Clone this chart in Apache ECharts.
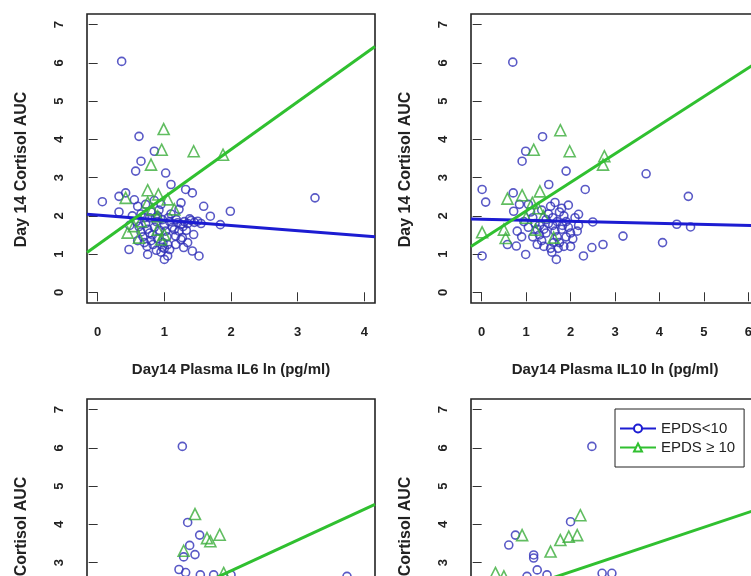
<!DOCTYPE html>
<html><head><meta charset="utf-8">
<script src="https://cdn.jsdelivr.net/npm/echarts@6/dist/echarts.min.js"></script>
<style>html,body{margin:0;padding:0;background:#fff}#c{width:751px;height:576px}</style>
</head><body><div id="c"></div>
<script>
// ---- data ----
var seriesNames = ['EPDS<10', 'EPDS \u2265 10'];
var yTicks = [0, 1, 2, 3, 4, 5, 6, 7];
var xTicksIL6 = [0, 1, 2, 3, 4];
var xTicksIL10 = [0, 1, 2, 3, 4, 5, 6];
var xNames = ['Day14 Plasma IL6 ln (pg/ml)', 'Day14 Plasma IL10 ln (pg/ml)', '', ''];
var yName = 'Day 14 Cortisol AUC';

var tlBlue = [[0.36,6.04],[0.07,2.37],[0.32,2.10],[0.32,2.51],[0.42,2.60],[0.62,4.08],[0.85,3.69],[0.65,3.43],[0.57,3.17],[1.02,3.12],[1.10,2.82],[1.32,2.69],[1.42,2.60],[1.25,2.34],[1.22,2.17],[1.59,2.25],[1.99,2.12],[1.69,1.99],[1.84,1.77],[3.26,2.47],[0.47,1.12],[0.75,0.99],[1.00,0.86],[1.05,0.95],[1.52,0.95],[1.42,1.08],[1.44,1.51],[1.27,1.43],[1.17,1.25],[1.29,1.17],[1.15,1.64],[1.17,1.47],
[0.55,2.42],[0.60,2.25],[0.65,2.05],[0.70,1.95],[0.72,1.80],[0.75,1.65],[0.78,1.55],[0.62,1.72],[0.68,1.45],[0.70,1.30],[0.74,1.20],[0.80,1.35],[0.82,1.50],[0.85,1.70],[0.88,1.85],[0.90,2.00],[0.92,2.15],[0.95,2.30],[0.97,1.90],[1.00,1.75],[1.02,1.60],[1.04,1.45],[0.98,1.30],[1.00,1.15],[0.95,1.05],[0.88,1.10],[0.83,1.25],[0.78,1.95],[0.80,2.10],[0.85,2.40],[0.65,1.58],[0.58,1.85],[0.52,2.00],[0.48,1.75],[0.60,1.35],[0.72,2.30],[1.06,1.95],[1.08,1.85],[1.10,2.05],[1.12,1.70],[0.90,1.40],[0.93,1.62],[0.87,1.95],[1.05,1.25],[1.08,1.12],[0.97,1.18],
[1.20,1.82],[1.25,1.78],[1.30,1.85],[1.35,1.80],[1.40,1.88],[1.45,1.83],[1.50,1.86],[1.55,1.80],[1.38,1.92],[1.28,1.72],[1.22,1.60],[1.33,1.62],[1.25,1.38],[1.35,1.30],[1.18,1.90]];
var tlGreen = [[0.99,4.27],[0.96,3.73],[1.44,3.69],[1.88,3.60],[0.80,3.34],[0.75,2.67],[0.91,2.56],[0.42,2.47],[0.54,1.73],[0.45,1.56],[0.62,1.43],[0.90,1.64],[0.95,1.38],[0.82,2.17],[0.75,2.35],[1.15,2.17],[1.05,2.43],[0.90,1.99],[0.65,1.86],[1.00,1.51]];

var trBlue = [[0.70,6.02],[1.37,4.07],[0.99,3.69],[0.91,3.43],[1.90,3.17],[1.51,2.82],[2.33,2.69],[3.70,3.10],[4.65,2.51],[0.01,2.69],[0.09,2.36],[0.01,0.95],[0.71,2.60],[0.72,2.12],[4.39,1.78],[4.70,1.71],[4.07,1.30],[3.18,1.47],[2.73,1.25],[2.48,1.17],[2.29,0.95],[1.68,0.86],[2.50,1.84],[2.18,2.04],[2.18,1.75],[0.78,1.21],[0.99,0.99],[0.58,1.25],[0.80,1.60],
[1.05,2.30],[1.10,2.10],[1.15,1.95],[1.20,1.80],[1.25,1.65],[1.30,1.50],[1.35,1.35],[1.40,1.20],[1.45,1.90],[1.50,2.05],[1.55,2.25],[1.60,1.75],[1.65,1.60],[1.70,1.45],[1.75,1.30],[1.80,2.20],[1.85,2.00],[1.90,1.85],[1.95,1.70],[2.00,1.55],[2.05,1.40],[2.10,1.95],[1.15,1.45],[1.25,1.25],[1.35,2.15],[1.45,1.55],[1.55,1.15],[1.65,2.35],[1.75,2.10],[1.85,1.20],[1.95,2.28],[2.00,1.20],[1.05,1.70],[0.95,1.85],[0.90,1.45],[1.50,1.80],[1.60,1.95],[1.70,1.85],[1.80,1.65],[1.90,1.45],[1.58,1.05],[1.62,1.30],[1.72,1.15],[1.82,1.75],[2.15,1.60],[0.85,2.30],[1.30,1.75],[1.40,1.65]];
var trGreen = [[1.77,4.24],[1.17,3.73],[1.98,3.69],[2.76,3.56],[2.73,3.34],[0.58,2.45],[0.91,2.54],[1.31,2.64],[0.01,1.57],[0.50,1.64],[0.54,1.42],[1.21,1.64],[1.14,2.34],[1.39,1.99],[1.62,1.43],[1.27,2.20],[1.00,1.95]];

var blBlue = [[1.27,6.04],[1.35,4.05],[1.53,3.72],[1.38,3.45],[1.29,3.15],[1.46,3.21],[1.22,2.82],[1.32,2.74],[1.54,2.68],[1.74,2.68],[2.00,2.68],[3.74,2.64]];
var blGreen = [[1.46,4.27],[1.64,3.64],[1.83,3.73],[1.69,3.56],[1.29,3.31],[1.89,2.73]];

var brBlue = [[2.48,6.04],[2.00,4.07],[0.76,3.72],[0.61,3.46],[1.17,3.20],[1.17,3.12],[1.25,2.81],[1.47,2.68],[2.71,2.72],[2.93,2.72],[1.02,2.64]];
var brGreen = [[2.22,4.24],[2.15,3.72],[1.96,3.68],[1.77,3.59],[1.55,3.29],[0.91,3.72],[0.31,2.73],[0.50,2.64]];

// regression fits: [intercept, slope]
var tlBlueFit = [2.02, -0.137], tlGreenFit = [1.24, 1.248];
var trBlueFit = [1.914, -0.027], trGreenFit = [1.38, 0.748];
var blGreenFit = [1.175, 0.805];
var brGreenFit = [1.98, 0.389];

// ---- chart ----
var BLUE_PT = '#3030b8', BLUE_LN = '#1c1cd2', GREEN_PT = '#3aac3a', GREEN_LN = '#30c030';
var FONT = 'Liberation Sans, Arial, sans-serif';
var xRanges = [[-0.16, 4.16], [-0.24, 6.24], [-0.16, 4.16], [-0.24, 6.24]];
var xTickSets = [xTicksIL6, xTicksIL10, xTicksIL6, xTicksIL10];
var grids = [
  {left: 87, top: 14, width: 288, height: 289},
  {left: 471, top: 14, width: 288, height: 289},
  {left: 87, top: 399, width: 288, height: 289},
  {left: 471, top: 399, width: 288, height: 289}
];
grids.forEach(function (g) {
  g.show = true; g.borderColor = '#222'; g.borderWidth = 1.6; g.backgroundColor = '#fff';
  g.outerBoundsMode = 'none'; g.containLabel = false;
});

var xAxes = [], yAxes = [];
for (var i = 0; i < 4; i++) {
  xAxes.push({
    type: 'value', gridIndex: i, min: xRanges[i][0], max: xRanges[i][1],
    name: xNames[i], nameLocation: 'middle', nameGap: 59,
    nameTextStyle: {fontFamily: FONT, fontWeight: 'bold', fontSize: 15, color: '#222'},
    axisLine: {show: false}, splitLine: {show: false},
    axisTick: {show: true, length: 9, customValues: xTickSets[i], lineStyle: {color: '#333', width: 1}},
    axisLabel: {customValues: xTickSets[i], margin: 23, fontFamily: FONT, fontWeight: 'bold', fontSize: 13, color: '#222'}
  });
  yAxes.push({
    type: 'value', gridIndex: i, min: -0.28, max: 7.28,
    name: yName, nameLocation: 'middle', nameGap: 57,
    nameTextStyle: {fontFamily: FONT, fontWeight: 'bold', fontSize: 16, color: '#222', padding: [0, 22, 0, 0]},
    axisLine: {show: false}, splitLine: {show: false},
    axisTick: {show: true, length: 9, customValues: yTicks, lineStyle: {color: '#333', width: 1}},
    axisLabel: {customValues: yTicks, rotate: 90, margin: 21, fontFamily: FONT, fontWeight: 'bold', fontSize: 13, color: '#222'}
  });
}

function fitLine(fit, idx, name, color, symbol) {
  var r = xRanges[idx];
  return {
    type: 'line', name: name, xAxisIndex: idx, yAxisIndex: idx,
    data: [[r[0], fit[0] + fit[1] * r[0]], [r[1], fit[0] + fit[1] * r[1]]],
    symbol: symbol, showSymbol: false, symbolSize: 8, silent: true, z: 5,
    lineStyle: {color: color, width: 3}, itemStyle: {color: color}, clip: true
  };
}
function pts(data, idx, name, color, symbol, size) {
  return {
    type: 'scatter', name: name, xAxisIndex: idx, yAxisIndex: idx, data: data,
    symbol: symbol, symbolSize: size, z: 3,
    itemStyle: {color: 'rgba(0,0,0,0)', borderColor: color, borderWidth: 1.6}
  };
}

var series = [
  fitLine(tlBlueFit, 0, seriesNames[0], BLUE_LN, 'emptyCircle'),
  fitLine(tlGreenFit, 0, seriesNames[1], GREEN_LN, 'emptyTriangle'),
  fitLine(trBlueFit, 1, seriesNames[0], BLUE_LN, 'emptyCircle'),
  fitLine(trGreenFit, 1, seriesNames[1], GREEN_LN, 'emptyTriangle'),
  fitLine(blGreenFit, 2, seriesNames[1], GREEN_LN, 'emptyTriangle'),
  fitLine(brGreenFit, 3, seriesNames[1], GREEN_LN, 'emptyTriangle'),
  pts(tlBlue, 0, seriesNames[0], BLUE_PT, 'circle', 8),
  pts(tlGreen, 0, seriesNames[1], GREEN_PT, 'triangle', 11),
  pts(trBlue, 1, seriesNames[0], BLUE_PT, 'circle', 8),
  pts(trGreen, 1, seriesNames[1], GREEN_PT, 'triangle', 11),
  pts(blBlue, 2, seriesNames[0], BLUE_PT, 'circle', 8),
  pts(blGreen, 2, seriesNames[1], GREEN_PT, 'triangle', 11),
  pts(brBlue, 3, seriesNames[0], BLUE_PT, 'circle', 8),
  pts(brGreen, 3, seriesNames[1], GREEN_PT, 'triangle', 11)
];

var chart = echarts.init(document.getElementById('c'), null, {renderer: 'canvas'});
chart.setOption({
  animation: false,
  backgroundColor: '#fff',
  grid: grids, xAxis: xAxes, yAxis: yAxes, series: series,
  legend: {
    data: seriesNames, orient: 'vertical', left: 615, top: 409,
    backgroundColor: '#fff', borderColor: '#222', borderWidth: 1,
    padding: [12, 9, 12, 4], itemGap: 4, itemWidth: 36, itemHeight: 10,
    selectedMode: false,
    textStyle: {fontFamily: FONT, fontSize: 15, color: '#222'}
  }
});
</script></body></html>
